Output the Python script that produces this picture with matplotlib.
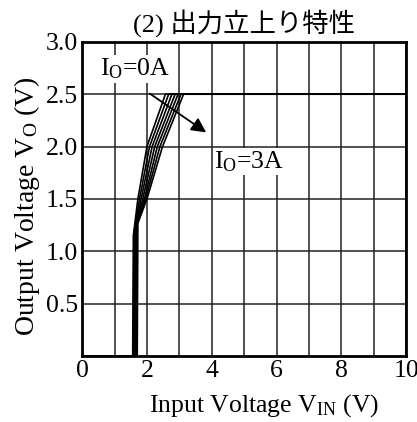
import matplotlib
matplotlib.use('Agg')
import matplotlib.pyplot as plt

plt.rcParams['font.family'] = ['Liberation Serif', 'Noto Sans CJK JP']
plt.rcParams['mathtext.fontset'] = 'custom'
plt.rcParams['mathtext.rm'] = 'Liberation Serif'

# output current family, 0A .. 3A
io = [0.0, 0.5, 1.0, 1.5, 2.0, 2.5, 3.0]
# input voltage where output starts to rise
vin_on = [1.56, 1.58, 1.60, 1.62, 1.64, 1.67, 1.70]
# output voltage at the end of the steep rise
vo_knee = [1.15, 1.17, 1.19, 1.21, 1.23, 1.25, 1.27]
# input voltage where output reaches 1.5V / 2.0V / 2.5V
vin_15 = [1.72, 1.77, 1.82, 1.87, 1.92, 1.96, 2.00]
vin_20 = [2.00, 2.08, 2.16, 2.24, 2.32, 2.40, 2.48]
vin_25 = [2.57, 2.67, 2.77, 2.87, 2.96, 3.05, 3.13]
vo_set = 2.5

fig = plt.figure(figsize=(4.17, 4.22), dpi=100)
ax = fig.add_axes([0.197, 0.156, 0.777, 0.745])

for i in range(len(io)):
    x = [0, vin_on[i], vin_on[i] + 0.02, vin_15[i], vin_20[i], vin_25[i], 10]
    y = [0, 0, vo_knee[i], 1.5, 2.0, vo_set, vo_set]
    ax.plot(x, y, color='black', lw=1.2, zorder=3)

ax.set_xlim(0, 10)
ax.set_ylim(0, 3)
ax.set_xticks(range(0, 11, 2))
ax.set_xticks(range(0, 11), minor=True)
ax.set_yticks([0.5, 1.0, 1.5, 2.0, 2.5, 3.0])
ax.set_yticklabels(['0.5', '1.0', '1.5', '2.0', '2.5', '3.0'])
ax.grid(True, which='both', color='#222222', lw=1.1)
ax.tick_params(which='both', length=0, labelsize=18.5, pad=3)
for s in ax.spines.values():
    s.set_linewidth(2)

ax.set_xlabel(r'Input Voltage V$\mathregular{_{IN}}$ (V)', fontsize=18.5)
ax.xaxis.set_label_coords(0.563, -0.115)
ax.set_ylabel(r'Output Voltage V$\mathregular{_O}$ (V)', fontsize=20)
ax.yaxis.set_label_coords(-0.125, 0.478)
ax.set_title('(2) 出力立上り特性', fontsize=19, pad=7)

ax.text(1.64, 2.74, r'I$\mathregular{_O}$=0A', fontsize=18.5, ha='center', va='center',
        bbox=dict(facecolor='white', edgecolor='none', pad=1), zorder=5)
ax.text(5.15, 1.86, r'I$\mathregular{_O}$=3A', fontsize=18.5, ha='center', va='center',
        bbox=dict(facecolor='white', edgecolor='none', pad=1), zorder=5)
ax.annotate('', xy=(3.9, 2.12), xytext=(2.02, 2.52),
            arrowprops=dict(arrowstyle='-|>', color='black', lw=1.3, mutation_scale=22),
            zorder=6)

fig.savefig('out.png', dpi=100)
